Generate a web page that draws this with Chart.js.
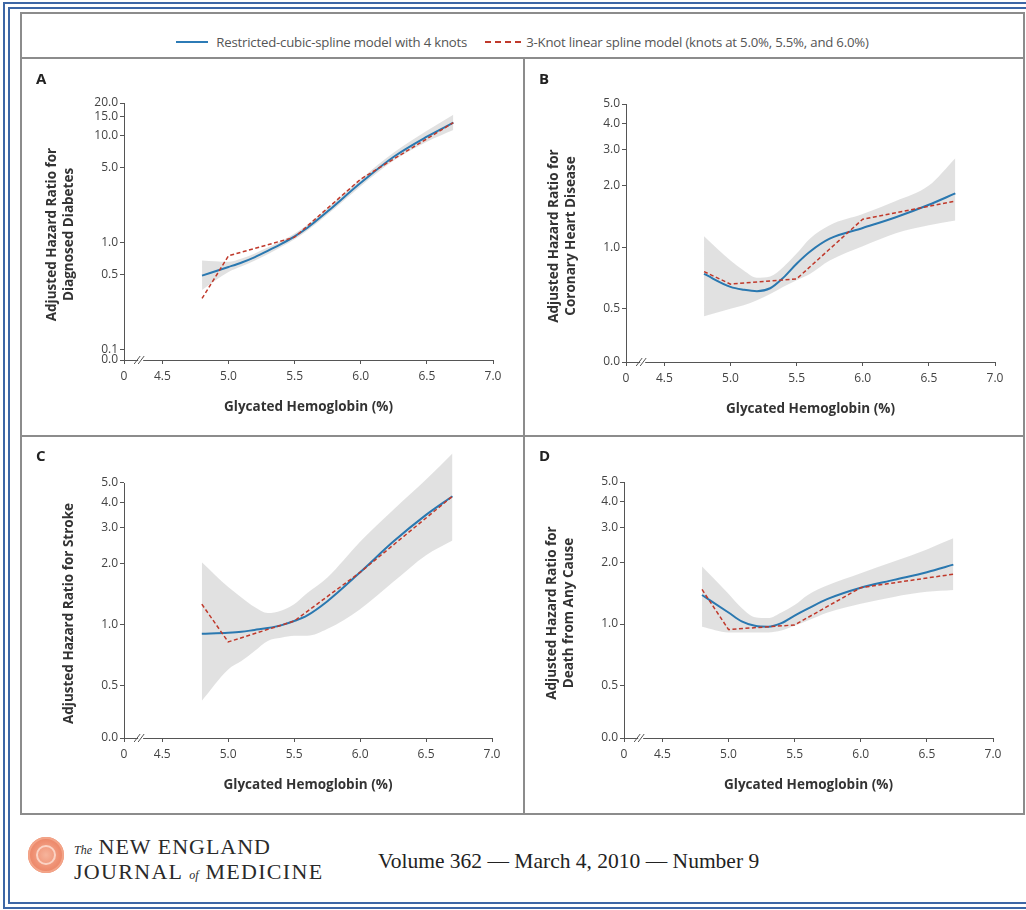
<!DOCTYPE html>
<html>
<head>
<meta charset="utf-8">
<script src="https://cdn.jsdelivr.net/npm/chart.js@4.4.1/dist/chart.umd.min.js"></script>
<style>
  body { margin: 0; background: #fff; width: 1026px; height: 910px; overflow: hidden; position: relative; font-family: "Open Sans", sans-serif; }
  #outer { position: absolute; left: 3px; top: 2px; width: 1040px; height: 893px; border: 7px double #3d67a6; }
  #box { position: absolute; left: 20px; top: 12px; width: 1001px; height: 799px; border: 2px solid #8c8c8c; }
  .rule { position: absolute; background: #8c8c8c; }
  .panel { position: absolute; }
  #legend { position: absolute; left: 20px; top: 33px; width: 1005px; height: 18px; display: flex; justify-content: center; align-items: center; font-size: 13.2px; color: #555; letter-spacing: -0.2px; }
  #legend .item { display: flex; align-items: center; margin: 0 9px; }
  #legend .solid { width: 32px; height: 0; border-top: 2px solid #2c7bb6; margin-right: 8px; }
  #legend .dash { width: 36px; height: 0; border-top: 2px dashed #c0392b; margin-right: 5px; }
  #footer { position: absolute; left: 28px; top: 836px; }
  #seal { position: absolute; left: 0; top: 1px; width: 36px; height: 36px; border-radius: 50%;
          background: radial-gradient(circle, #f6b49c 0%, #ee8d6f 55%, #e27a5c 100%); box-shadow: inset 0 0 0 2px #f3a488; }
  #seal::after { content: ""; position: absolute; left: 8px; top: 8px; width: 16px; height: 16px; border: 2px solid #fbd3c4; border-radius: 50%; transform: rotate(45deg); }
  #mast { position: absolute; left: 46px; top: 0; font-family: "Liberation Serif", "DejaVu Serif", serif; color: #2a2a2a; white-space: nowrap; }
  #mast .l1 { font-size: 22px; letter-spacing: 1px; line-height: 21px; }
  #mast .l2 { font-size: 22px; letter-spacing: 1.3px; line-height: 22px; }
  #mast small { font-size: 12px; font-style: italic; letter-spacing: 0; }
  #issue { position: absolute; left: 378px; top: 849px; font-family: "Liberation Serif", "DejaVu Serif", serif; font-size: 21.5px; color: #222; white-space: nowrap; }
</style>
</head>
<body>
<div id="outer"></div>
<div id="box"></div>
<div class="rule" style="left:20px; top:57px; width:1005px; height:2px;"></div>
<div class="rule" style="left:523px; top:57px; width:2px; height:758px;"></div>
<div class="rule" style="left:20px; top:435px; width:1005px; height:2px;"></div>

<div id="legend">
  <div class="item"><span class="solid"></span>Restricted-cubic-spline model with 4 knots</div>
  <div class="item"><span class="dash"></span>3-Knot linear spline model (knots at 5.0%, 5.5%, and 6.0%)</div>
</div>

<div class="panel" style="left:22px; top:60px;"><canvas id="chartA" width="501" height="375"></canvas></div>
<div class="panel" style="left:525px; top:60px;"><canvas id="chartB" width="500" height="375"></canvas></div>
<div class="panel" style="left:22px; top:437px;"><canvas id="chartC" width="501" height="376"></canvas></div>
<div class="panel" style="left:525px; top:437px;"><canvas id="chartD" width="500" height="376"></canvas></div>

<div id="footer">
  <div id="seal"></div>
  <div id="mast">
    <div class="l1"><small>The</small> NEW ENGLAND</div>
    <div class="l2">JOURNAL <small>of</small> MEDICINE</div>
  </div>
</div>
<div id="issue">Volume 362 — March 4, 2010 — Number 9</div>

<script>
// Glycated hemoglobin (%) values where the curves were read
const hba1cGrid = [4.8, 5.0, 5.1, 5.2, 5.3, 5.4, 5.5, 5.6, 5.75, 6.0, 6.25, 6.5, 6.7];
const linearKnots = [4.8, 5.0, 5.5, 6.0, 6.7];
const xTickValues = [4.5, 5.0, 5.5, 6.0, 6.5, 7.0];

const yTicksA = [0.1, 0.5, 1.0, 5.0, 10.0, 15.0, 20.0];
const yTicksOther = [0.5, 1.0, 2.0, 3.0, 4.0, 5.0];

// A - diagnosed diabetes
const cubicA = [0.49, 0.59, 0.65, 0.73, 0.84, 0.97, 1.14, 1.38, 1.95, 3.6, 6.3, 9.7, 13.1];
const lowA = [0.36, 0.53, 0.60, 0.68, 0.78, 0.91, 1.07, 1.30, 1.83, 3.35, 5.8, 8.7, 11.2];
const highA = [0.68, 0.66, 0.71, 0.79, 0.90, 1.03, 1.21, 1.47, 2.1, 3.9, 6.9, 11.0, 15.5];
const linearA = [0.30, 0.75, 1.12, 3.9, 13.1];

// B - coronary heart disease
const cubicB = [0.74, 0.64, 0.62, 0.61, 0.63, 0.71, 0.83, 0.95, 1.10, 1.24, 1.40, 1.61, 1.83];
const lowB = [0.46, 0.50, 0.52, 0.55, 0.59, 0.64, 0.69, 0.74, 0.86, 1.01, 1.17, 1.28, 1.35];
const highB = [1.13, 0.86, 0.77, 0.71, 0.72, 0.80, 0.93, 1.10, 1.28, 1.45, 1.68, 2.0, 2.72];
const linearB = [0.76, 0.66, 0.70, 1.37, 1.68];

// C - stroke
const cubicC = [0.90, 0.91, 0.92, 0.94, 0.96, 0.99, 1.04, 1.11, 1.30, 1.81, 2.56, 3.48, 4.30];
const lowC = [0.42, 0.60, 0.66, 0.74, 0.83, 0.86, 0.88, 0.88, 0.95, 1.19, 1.62, 2.2, 2.6];
const highC = [2.03, 1.53, 1.36, 1.22, 1.14, 1.17, 1.26, 1.43, 1.70, 2.56, 3.68, 5.2, 7.0];
const linearC = [1.26, 0.82, 1.04, 1.81, 4.30];

// D - death from any cause
const cubicD = [1.39, 1.14, 1.03, 0.98, 0.97, 1.01, 1.10, 1.19, 1.33, 1.51, 1.65, 1.80, 1.96];
const lowD = [0.97, 0.91, 0.91, 0.91, 0.91, 0.93, 0.98, 1.04, 1.14, 1.26, 1.36, 1.44, 1.47];
const highD = [1.92, 1.41, 1.20, 1.08, 1.07, 1.14, 1.24, 1.39, 1.55, 1.78, 2.03, 2.33, 2.64];
const linearD = [1.48, 0.94, 0.99, 1.51, 1.76];

Chart.defaults.font.family = '"Open Sans", sans-serif';
Chart.defaults.color = '#444';

const X_ZERO = 4.21; // where the "0" of the broken x axis sits
const AXIS = '#555';

function pts(xs, ys) {
    return xs.map((x, i) => ({ x: x, y: ys[i] }));
}

// axis line, axis break, panel letter and y title
const panelDecor = {
    id: 'panelDecor',
    afterDraw(chart, args, opts) {
        const { ctx, chartArea } = chart;
        const x = chart.scales.x, y = chart.scales.y;
        const topPx = y.getPixelForValue(opts.topTick);
        const left = Math.round(chartArea.left) + 0.5;
        ctx.save();
        ctx.strokeStyle = AXIS;
        ctx.lineWidth = 1;
        ctx.beginPath();
        ctx.moveTo(left, topPx);
        ctx.lineTo(left, chartArea.bottom + 4);
        ctx.stroke();

        // little // break on the x axis
        const bx = (x.getPixelForValue(X_ZERO) + x.getPixelForValue(4.5)) / 2 - 2;
        const by = chartArea.bottom;
        ctx.fillStyle = '#fff';
        ctx.fillRect(bx - 3, by - 2, 5, 4);
        ctx.beginPath();
        ctx.moveTo(bx - 7, by + 4); ctx.lineTo(bx - 1, by - 4);
        ctx.moveTo(bx - 3, by + 4); ctx.lineTo(bx + 3, by - 4);
        ctx.stroke();

        ctx.fillStyle = '#222';
        ctx.font = 'bold 15px "Open Sans"';
        ctx.textAlign = 'left';
        ctx.textBaseline = 'middle';
        ctx.fillText(opts.letter, 14, 20);

        ctx.fillStyle = '#333';
        ctx.font = 'bold 13.5px "Open Sans"';
        ctx.textAlign = 'center';
        const cy = (topPx + chartArea.bottom) / 2 + 3;
        const n = opts.title.length;
        ctx.translate(chartArea.left - 55 - (n - 1) * 17, cy);
        ctx.rotate(-Math.PI / 2);
        opts.title.forEach((line, i) => ctx.fillText(line, 0, i * 17));
        ctx.restore();
    }
};

function makePanel(id, p) {
    const canvas = document.getElementById(id);
    const h = canvas.height, w = canvas.width;
    // top padding so that the top tick lands at tickTop even when max > top tick
    const span = p.plotBottom - p.tickTop;
    const extra = Math.log(p.yMax / p.topTick) / Math.log(p.topTick / p.yMin) * span;

    return new Chart(canvas, {
        type: 'line',
        data: {
            datasets: [
                {
                    label: '3-Knot linear spline model',
                    data: pts(linearKnots, p.linear),
                    borderColor: '#c0392b',
                    borderWidth: 1.5,
                    borderDash: [4, 2.5],
                    pointRadius: 0,
                    tension: 0,
                    fill: false
                },
                {
                    label: 'Restricted-cubic-spline model with 4 knots',
                    data: pts(hba1cGrid, p.cubic),
                    borderColor: '#2a78b0',
                    borderWidth: 2,
                    pointRadius: 0,
                    cubicInterpolationMode: 'monotone',
                    fill: false
                },
                {
                    label: 'upper',
                    data: pts(hba1cGrid, p.high),
                    borderWidth: 0,
                    borderColor: 'rgba(0,0,0,0)',
                    backgroundColor: 'rgba(200,200,200,0.55)',
                    pointRadius: 0,
                    cubicInterpolationMode: 'monotone',
                    fill: '+1'
                },
                {
                    label: 'lower',
                    data: pts(hba1cGrid, p.low),
                    borderWidth: 0,
                    borderColor: 'rgba(0,0,0,0)',
                    pointRadius: 0,
                    cubicInterpolationMode: 'monotone',
                    fill: false
                }
            ]
        },
        options: {
            responsive: false,
            animation: false,
            events: [],
            layout: { padding: { left: 0, top: p.tickTop - extra, right: w - p.plotRight, bottom: 0 } },
            scales: {
                x: {
                    type: 'linear',
                    min: X_ZERO,
                    max: 7.0,
                    afterFit: (s) => { s.height = h - p.plotBottom; },
                    afterBuildTicks: (s) => { s.ticks = [X_ZERO, ...xTickValues].map(v => ({ value: v })); },
                    ticks: {
                        autoSkip: false,
                        maxRotation: 0,
                        padding: 5,
                        color: '#444',
                        font: { size: 12 },
                        callback: (v) => (v === X_ZERO ? '0' : v.toFixed(1))
                    },
                    grid: { drawOnChartArea: false, tickLength: 4, color: AXIS },
                    border: { display: true, color: AXIS, width: 1 },
                    title: {
                        display: true,
                        text: 'Glycated Hemoglobin (%)',
                        color: '#333',
                        font: { size: 13.5, weight: 'bold' },
                        padding: { top: 0, bottom: h - (p.plotBottom + 47) - 8 }
                    }
                },
                y: {
                    type: 'logarithmic',
                    min: p.yMin,
                    max: p.yMax,
                    afterFit: (s) => { s.width = p.plotLeft; },
                    afterBuildTicks: (s) => { s.ticks = [p.yMin, ...p.yTicks].map(v => ({ value: v })); },
                    ticks: {
                        autoSkip: false,
                        padding: 2,
                        color: '#444',
                        font: { size: 12 },
                        callback: (v) => (v === p.yMin ? '0.0' : Number(v).toFixed(1))
                    },
                    grid: { drawOnChartArea: false, tickLength: 4, color: AXIS },
                    border: { display: false }
                }
            },
            plugins: {
                legend: { display: false },
                tooltip: { enabled: false },
                panelDecor: { letter: p.letter, title: p.title, topTick: p.topTick }
            }
        },
        plugins: [panelDecor]
    });
}

makePanel('chartA', {
    letter: 'A', title: ['Adjusted Hazard Ratio for', 'Diagnosed Diabetes'],
    cubic: cubicA, low: lowA, high: highA, linear: linearA,
    yMin: 0.08, yMax: 20, topTick: 20, yTicks: yTicksA,
    plotLeft: 102, plotRight: 471, tickTop: 43, plotBottom: 300
});
makePanel('chartB', {
    letter: 'B', title: ['Adjusted Hazard Ratio for', 'Coronary Heart Disease'],
    cubic: cubicB, low: lowB, high: highB, linear: linearB,
    yMin: 0.275, yMax: 5, topTick: 5, yTicks: yTicksOther,
    plotLeft: 101, plotRight: 470, tickTop: 44, plotBottom: 302
});
makePanel('chartC', {
    letter: 'C', title: ['Adjusted Hazard Ratio for Stroke'],
    cubic: cubicC, low: lowC, high: highC, linear: linearC,
    yMin: 0.275, yMax: 7.5, topTick: 5, yTicks: yTicksOther,
    plotLeft: 102, plotRight: 470, tickTop: 46, plotBottom: 301
});
makePanel('chartD', {
    letter: 'D', title: ['Adjusted Hazard Ratio for', 'Death from Any Cause'],
    cubic: cubicD, low: lowD, high: highD, linear: linearD,
    yMin: 0.275, yMax: 5, topTick: 5, yTicks: yTicksOther,
    plotLeft: 99, plotRight: 468, tickTop: 45, plotBottom: 301
});
</script>
</body>
</html>
